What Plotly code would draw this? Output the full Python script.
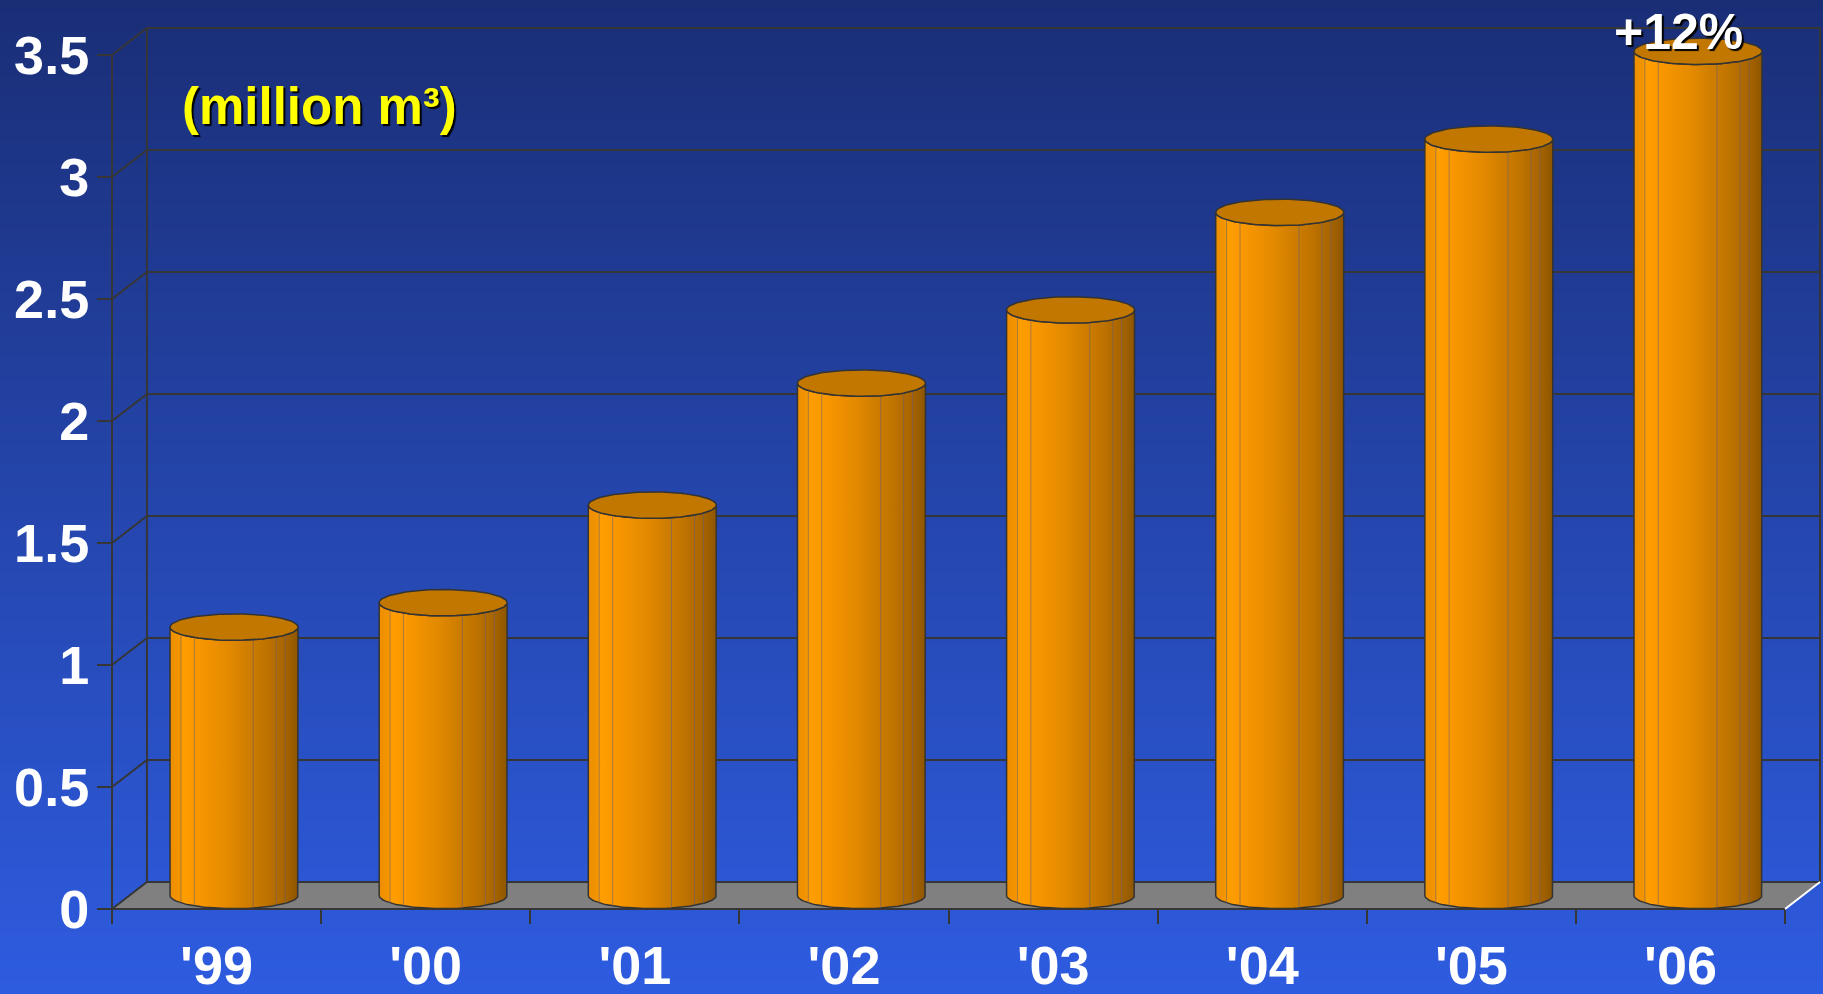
import numpy as np
import plotly.graph_objects as go

# ---- data ----
years = ["'99", "'00", "'01", "'02", "'03", "'04", "'05", "'06"]
volumes = [1.1, 1.2, 1.6, 2.1, 2.4, 2.8, 3.1, 3.46]   # million m3
y_ticks = [0, 0.5, 1, 1.5, 2, 2.5, 3, 3.5]
y_tick_labels = ['0', '0.5', '1', '1.5', '2', '2.5', '3', '3.5']
unit_label = '(million m³)'

# ---- layout geometry ----
W, H = 1823, 994
PX_L, PX_R, PX_T, PX_B = 112, 1820, 28, 909   # pixel frame of the 3d box
PAD = 6

n = len(years)
y_max = y_ticks[-1]
DX, DY = 0.167, 0.111     # depth offset of the back wall (data units)
RX, RY = 0.306, 0.054     # cylinder radius / ellipse half height

ux = (PX_R - PX_L) / (n + DX)
uy = (PX_B - PX_T) / (y_max + DY)
m_l = PX_L - PAD
m_r = W - PX_R - 2
m_t = PX_T - PAD
m_b = H - PX_B - PAD
plot_w = W - m_l - m_r
plot_h = H - m_t - m_b

GRID = '#363636'
FONT = 'Arial, Liberation Sans, sans-serif'

fig = go.Figure()

# background gradient (dark blue top -> bright blue bottom)
top_rgb = np.array([26, 46, 118])
bot_rgb = np.array([46, 92, 224])
band = 4
shapes = []
for py in range(0, H, band):
    c = top_rgb + (bot_rgb - top_rgb) * (py + band / 2) / H
    shapes.append(dict(
        type='rect', xref='paper', yref='paper', layer='below',
        x0=-m_l / plot_w - 0.01, x1=1 + m_r / plot_w + 0.01,
        y0=(H - m_b - py - band - 1) / plot_h, y1=(H - m_b - py) / plot_h,
        fillcolor='rgb(%d,%d,%d)' % tuple(c.round().astype(int)), line_width=0,
    ))

# floor
fig.add_trace(go.Scatter(
    x=[0, n, n + DX, DX, 0], y=[0, 0, DY, DY, 0],
    fill='toself', fillcolor='#808080', mode='none', hoverinfo='skip'
))

# walls and gridlines
gx, gy = [], []
for v in y_ticks:
    gx += [0, DX, n + DX, None]
    gy += [v, v + DY, v + DY, None]
gx += [DX, DX, None, n + DX, n + DX, None, 0, 0, None, 0, n, None]
gy += [DY, y_max + DY, None, DY, y_max + DY, None, 0, y_max, None, 0, 0, None]
fig.add_trace(go.Scatter(x=gx, y=gy, mode='lines', line=dict(color=GRID, width=2),
                         hoverinfo='skip'))
fig.add_trace(go.Scatter(x=[n, n + DX], y=[0, DY], mode='lines',
                         line=dict(color='white', width=2), hoverinfo='skip'))

# cylinders
body_scale = [[0, '#ec8e00'], [0.07, '#f39400'], [0.1, '#ff9e00'], [0.2, '#fa9800'],
              [0.45, '#e48a00'], [0.6, '#d07e00'], [0.75, '#bf7300'],
              [0.88, '#aa6600'], [1, '#8e5600']]
facets = [0.085, 0.19, 0.65, 0.83, 0.9]
t_front = np.linspace(np.pi, 2 * np.pi, 60)
t_full = np.linspace(0, 2 * np.pi, 120)
for i, v in enumerate(volumes):
    cx = i + 0.5 + DX / 2
    y_base = DY / 2
    y_top = v + DY / 2
    bx = list(cx + RX * np.cos(t_front)) + list(cx + RX * np.cos(t_front[::-1]))
    by = list(y_top + RY * np.sin(t_front)) + list(y_base + RY * np.sin(t_front[::-1]))
    fig.add_trace(go.Scatter(
        x=bx + [bx[0]], y=by + [by[0]], fill='toself', mode='lines',
        fillgradient=dict(type='horizontal', colorscale=body_scale),
        line=dict(color='#333333', width=1.5), hoverinfo='skip'
    ))
    fx, fy = [], []
    for f in facets:
        xx = cx - RX + 2 * RX * f
        dy = RY * np.sqrt(1 - ((xx - cx) / RX) ** 2)
        fx += [xx, xx, None]
        fy += [y_base - dy, y_top - dy, None]
    fig.add_trace(go.Scatter(x=fx, y=fy, mode='lines',
                             line=dict(color='rgba(105,95,115,0.55)', width=1),
                             hoverinfo='skip'))
    fig.add_trace(go.Scatter(
        x=cx + RX * np.cos(t_full), y=y_top + RY * np.sin(t_full),
        fill='toself', fillcolor='#c27800', mode='lines',
        line=dict(color='#333333', width=1.5), hoverinfo='skip'
    ))

growth = round((volumes[-1] / volumes[-2] - 1) * 100)
fig.add_annotation(
    x=n - 0.5 + DX / 2, y=volumes[-1] + DY / 2 + RY, xref='x', yref='y',
    text='+%d%%' % growth, showarrow=False, yanchor='bottom', xshift=-19, yshift=-24,
    font=dict(family=FONT, size=50, color='white', weight='bold',
              shadow='2px 2px 1px #000000')
)
fig.add_annotation(
    x=0.99, y=3.29, xref='x', yref='y', text=unit_label, showarrow=False,
    font=dict(family=FONT, size=51, color='#ffff00', weight='bold',
              shadow='2px 2px 1px #000000')
)

tick_font = dict(family=FONT, size=54, color='white', weight='bold')
fig.update_layout(
    width=W, height=H,
    margin=dict(l=m_l, r=m_r, t=m_t, b=m_b, pad=0),
    paper_bgcolor='#2446b0', plot_bgcolor='rgba(0,0,0,0)',
    showlegend=False,
    shapes=shapes,
    xaxis=dict(
        range=[-PAD / ux, n + DX + 2 / ux], anchor='free', position=PAD / plot_h,
        automargin=False,
        tickmode='array', tickvals=[i + 0.5 for i in range(n)], ticktext=years,
        ticks='', showgrid=False, zeroline=False, tickfont=tick_font,
        ticklabelstandoff=20,
        minor=dict(tickmode='array', tickvals=list(range(n + 1)), ticks='outside',
                   ticklen=14, tickwidth=2, tickcolor=GRID, showgrid=False),
    ),
    yaxis=dict(
        range=[-PAD / uy, y_max + DY + PAD / uy], anchor='free', position=PAD / plot_w,
        automargin=False,
        tickmode='array', tickvals=y_ticks, ticktext=y_tick_labels,
        ticks='outside', ticklen=15, tickwidth=2, tickcolor=GRID,
        showgrid=False, zeroline=False, tickfont=tick_font, ticklabelstandoff=-3,
    ),
)

# page body has a default 8px margin; drop it so the figure fills the window
fig.write_html("out.html", config={'displayModeBar': False},
               post_script="document.body.style.margin='0';")
